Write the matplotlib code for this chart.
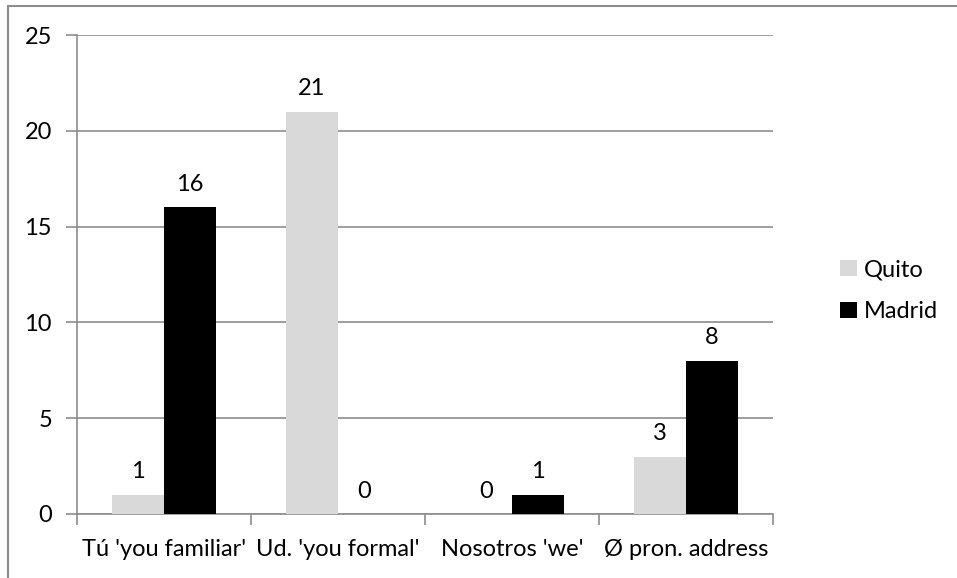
import numpy as np
import matplotlib.pyplot as plt
import matplotlib.patches as patches

categories = ["Tú 'you familiar'", "Ud. 'you formal'", "Nosotros 'we'", "Ø pron. address"]
quito = [1, 21, 0, 3]
madrid = [16, 0, 1, 8]

plt.rcParams['font.family'] = ['Lato', 'DejaVu Sans']
grey = '#8c8c8c'
fs = 17

fig = plt.figure(figsize=(9.57, 5.78), dpi=100)
ax = fig.add_axes([77/957, 1-514/578, (773-77)/957, (514-35)/578])

# outer chart border (left and top visible)
fig.add_artist(patches.Rectangle((8/957, -0.05), 1.2, 1-6/578+0.05,
                                 transform=fig.transFigure, fill=False,
                                 edgecolor=grey, lw=1.5))

x = np.arange(len(categories))
w = 0.3
b1 = ax.bar(x - w/2, quito, w, color='#d9d9d9', label='Quito', zorder=3)
b2 = ax.bar(x + w/2, madrid, w, color='black', label='Madrid', zorder=3)

for bars, vals in ((b1, quito), (b2, madrid)):
    for r, v in zip(bars, vals):
        ax.annotate(str(v), (r.get_x() + r.get_width()/2, v), xytext=(0, 9),
                    textcoords='offset points', ha='center', va='bottom', fontsize=fs)

ax.set_xlim(-0.5, len(categories) - 0.5)
ax.set_ylim(0, 25)
ax.set_yticks(range(0, 26, 5))
ax.yaxis.grid(True, color=grey, lw=1.2, zorder=0)
ax.set_xticks(x)
ax.set_xticklabels(categories, fontsize=fs)
ax.set_xticks(np.arange(-0.5, len(categories)), minor=True)
ax.tick_params(axis='x', which='major', length=0, pad=18)
ax.tick_params(axis='x', which='minor', length=8, color=grey, width=1.2)
ax.tick_params(axis='y', length=8, color=grey, width=1.2, labelsize=fs, pad=10)
for s in ('top', 'right'):
    ax.spines[s].set_visible(False)
for s in ('left', 'bottom'):
    ax.spines[s].set_color(grey)
    ax.spines[s].set_linewidth(1.2)

ax.legend(loc='center left', bbox_to_anchor=(1.066, 0.466), frameon=False,
          fontsize=fs, handlelength=0.7, handleheight=0.7, handletextpad=0.3,
          labelspacing=0.9)

fig.savefig('out.png', dpi=100)
